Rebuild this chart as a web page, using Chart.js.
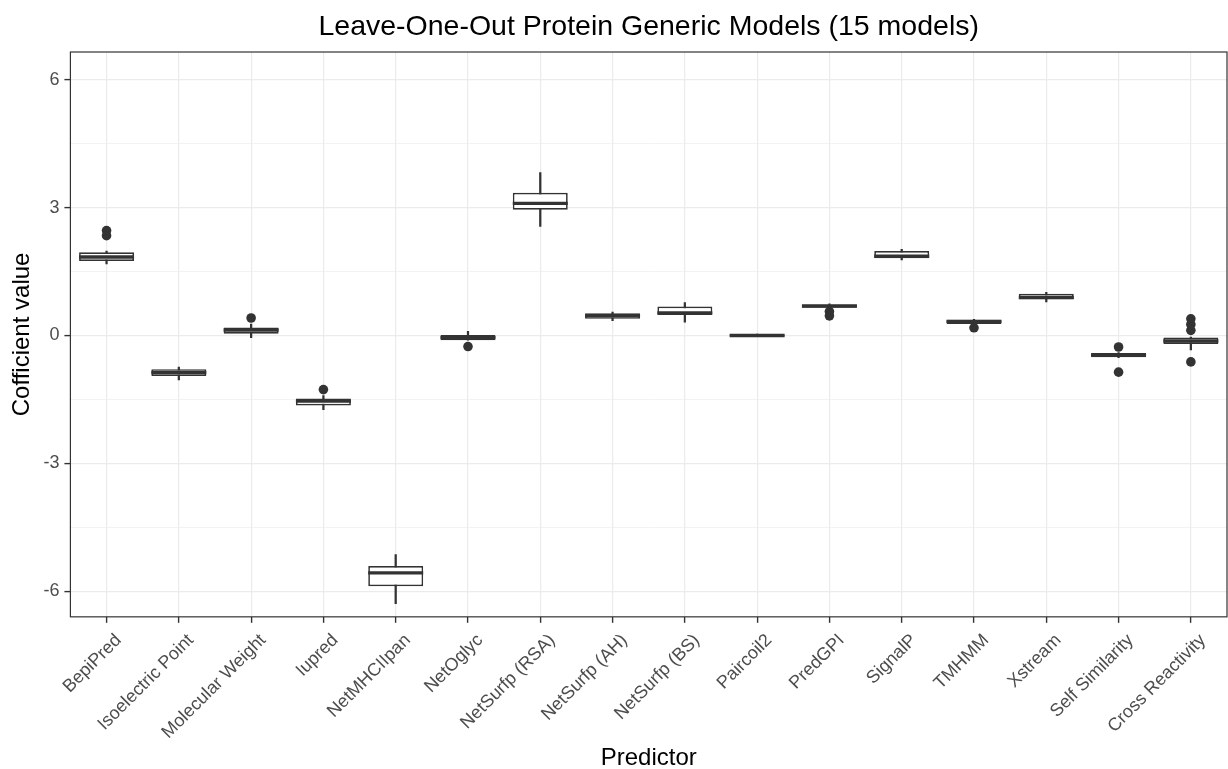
<!DOCTYPE html>
<html>
<head>
<meta charset="utf-8">
<script src="https://cdn.jsdelivr.net/npm/chart.js@4.4.1/dist/chart.umd.min.js"></script>
<style>
  body { margin: 0; background: #fff; }
  #wrap { width: 1228px; height: 769px; }
</style>
</head>
<body>
<div id="wrap"><canvas id="myChart" width="1228" height="769"></canvas></div>
<script>
  // predictors on the x axis
  var predictors = ["BepiPred", "Isoelectric Point", "Molecular Weight", "Iupred", "NetMHCIIpan",
    "NetOglyc", "NetSurfp (RSA)", "NetSurfp (AH)", "NetSurfp (BS)", "Paircoil2", "PredGPI",
    "SignalP", "TMHMM", "Xstream", "Self Similarity", "Cross Reactivity"];

  // box plot statistics per predictor
  var lowerWhisker = [1.68, -1.04, -0.05, -1.74, -6.29, -0.11, 2.56, 0.35, 0.31, -0.03, 0.63, 1.77, 0.26, 0.79, -0.52, -0.34];
  var boxLow       = [1.75, -0.95,  0.04, -1.64, -5.88, -0.11, 2.95, 0.39, 0.48, -0.02, 0.65, 1.81, 0.27, 0.85, -0.51, -0.20];
  var medians      = [1.84, -0.87,  0.13, -1.54, -5.57, -0.05, 3.10, 0.46, 0.53,  0.00, 0.69, 1.86, 0.33, 0.89, -0.46, -0.13];
  var boxHigh      = [1.95, -0.79,  0.19, -1.48, -5.41,  0.01, 3.35, 0.52, 0.68,  0.02, 0.72, 1.98, 0.37, 0.98, -0.41, -0.05];
  var upperWhisker = [1.98, -0.74,  0.27, -1.41, -5.14,  0.10, 3.82, 0.55, 0.77,  0.03, 0.74, 2.02, 0.38, 1.01, -0.40, -0.04];

  // outlying points
  var outlierPredictor = ["BepiPred", "BepiPred", "Molecular Weight", "Iupred", "NetOglyc", "PredGPI", "PredGPI",
    "TMHMM", "Self Similarity", "Self Similarity", "Cross Reactivity", "Cross Reactivity", "Cross Reactivity", "Cross Reactivity"];
  var outlierValue = [2.46, 2.34, 0.41, -1.27, -0.26, 0.56, 0.46, 0.18, -0.27, -0.86, 0.39, 0.26, 0.12, -0.62];

  var yTicks = [-6, -3, 0, 3, 6];

  var ink = "#333333";
  var gridCol = "#ebebeb";
  var fontFam = "'Liberation Sans', Arial, sans-serif";

  var whiskerData = [];
  var boxData = [];
  for (var i = 0; i < predictors.length; i++) {
    whiskerData.push([lowerWhisker[i], upperWhisker[i]]);
    boxData.push([boxLow[i], boxHigh[i]]);
  }
  var outlierData = outlierPredictor.map(function (p, i) { return { x: p, y: outlierValue[i] }; });

  function isMajor(v) {
    return yTicks.indexOf(Math.round(v * 100) / 100) != -1;
  }

  var panelBorder = {
    id: "panelBorder",
    afterDraw: function (chart) {
      var a = chart.chartArea;
      var ctx = chart.ctx;
      ctx.save();
      ctx.strokeStyle = ink;
      ctx.lineWidth = 1.2;
      ctx.strokeRect(a.left, a.top, a.right - a.left, a.bottom - a.top);
      ctx.restore();
    }
  };

  var config = {
    type: "bar",
    data: {
      labels: predictors,
      datasets: [
        {
          label: "whisker",
          type: "bar",
          data: whiskerData,
          backgroundColor: ink,
          borderWidth: 0,
          barThickness: 1.6,
          grouped: false,
          order: 4
        },
        {
          label: "box",
          type: "bar",
          data: boxData,
          backgroundColor: "#ffffff",
          borderColor: ink,
          borderWidth: 1.7,
          borderSkipped: false,
          categoryPercentage: 1,
          barPercentage: 0.76,
          grouped: false,
          order: 3
        },
        {
          label: "median",
          type: "line",
          data: medians,
          showLine: false,
          pointStyle: "line",
          pointRadius: 27.5,
          pointHoverRadius: 27.5,
          pointBorderColor: ink,
          pointBorderWidth: 3.4,
          order: 2
        },
        {
          label: "outlier",
          type: "line",
          data: outlierData,
          showLine: false,
          pointRadius: 4.8,
          pointHoverRadius: 4.8,
          pointBackgroundColor: ink,
          pointBorderWidth: 0,
          order: 1
        }
      ]
    },
    options: {
      responsive: false,
      animation: false,
      events: [],
      layout: { autoPadding: false, padding: { left: 0, right: 1, top: 0, bottom: 0 } },
      plugins: {
        legend: { display: false },
        tooltip: { enabled: false },
        title: {
          display: true,
          text: "Leave-One-Out Protein Generic Models (15 models)",
          fullSize: false,
          color: "#000",
          font: { family: fontFam, size: 28.5, weight: "normal" },
          padding: { top: 9.9, bottom: 7.9 }
        }
      },
      scales: {
        x: {
          type: "category",
          offset: true,
          border: { display: false },
          afterFit: function (scale) { scale.height -= 6; },
          grid: {
            offset: false,
            color: gridCol,
            lineWidth: 1.2,
            tickColor: ink,
            tickWidth: 1.4,
            tickLength: 6
          },
          ticks: {
            autoSkip: false,
            minRotation: 45,
            maxRotation: 45,
            padding: 7,
            labelOffset: 12,
            color: "#4d4d4d",
            font: { family: fontFam, size: 18 }
          },
          title: {
            display: true,
            text: "Predictor",
            color: "#000",
            font: { family: fontFam, size: 24 },
            padding: { top: -0.5, bottom: -3.5 }
          }
        },
        y: {
          min: -6.6,
          max: 6.65,
          border: { display: false },
          grid: {
            color: gridCol,
            lineWidth: function (ctx) { return isMajor(ctx.tick.value) ? 1.2 : 0.6; },
            tickColor: function (ctx) { return isMajor(ctx.tick.value) ? ink : "rgba(0,0,0,0)"; },
            tickWidth: 1.4,
            tickLength: 6
          },
          ticks: {
            stepSize: 1.5,
            includeBounds: false,
            padding: 5,
            color: "#4d4d4d",
            font: { family: fontFam, size: 18 },
            callback: function (v) { return isMajor(v) ? String(v) : ""; }
          },
          title: {
            display: true,
            text: "Cofficient value",
            color: "#000",
            font: { family: fontFam, size: 24 },
            padding: { top: 7.6, bottom: 2 }
          }
        }
      }
    },
    plugins: [panelBorder]
  };

  var ctx = document.getElementById("myChart");
  window.boxChart = new Chart(ctx, config);
</script>
</body>
</html>
